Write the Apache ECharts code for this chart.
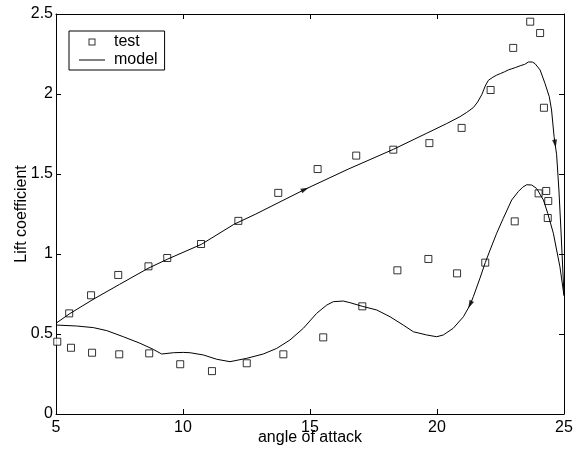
<!DOCTYPE html>
<html>
<head>
<meta charset="utf-8">
<script src="https://cdn.jsdelivr.net/npm/echarts@6/dist/echarts.min.js"></script>
<style>
    html, body { margin: 0; padding: 0; background: #fff; }
    #chart { width: 576px; height: 453px; }
</style>
</head>
<body>
<div id="chart"></div>
<script>
// measured test points
const testX = [5.05, 5.52, 5.59, 6.38, 6.42, 7.45, 7.49, 8.64, 8.67, 9.38, 9.89, 10.71, 11.14, 12.18,
    12.51, 13.75, 13.95, 15.3, 15.52, 16.82, 17.06, 18.28, 18.44, 19.7, 19.66, 20.97, 20.79,
    22.11, 21.9, 23.0, 23.06, 23.67, 24.06, 24.21, 24.0, 24.3, 24.38, 24.36]
const testY = [0.452, 0.629, 0.414, 0.742, 0.383, 0.869, 0.373, 0.923, 0.379, 0.975, 0.311, 1.0625, 0.268, 1.207,
    0.317, 1.382, 0.373, 1.531, 0.479, 1.615, 0.673, 1.652, 0.898, 1.693, 0.969, 1.788, 0.879,
    2.025, 0.946, 2.288, 1.204, 2.452, 2.381, 1.914, 1.379, 1.394, 1.331, 1.225]

// model loop: upper branch to the right, then lower branch back to the left
const modelX = [5.0, 5.52, 6.5, 7.5, 8.62, 9.38, 10.72, 12.0, 12.87, 14.8, 16.5, 18.28, 19.6, 20.38, 20.9,
    21.17, 21.43, 21.6, 21.76, 21.9, 22.02, 22.2, 22.35, 22.5, 22.65, 22.8, 22.95, 23.1, 23.3, 23.45, 23.6,
    23.75, 23.86, 24.06, 24.25, 24.42, 24.51, 24.61, 24.71, 24.8, 24.88, 25.0,
    24.84, 24.58, 24.36, 24.19, 23.92, 23.73, 23.53, 23.37, 23.2, 22.94, 22.61, 22.35, 22.09, 21.9,
    21.69, 21.43, 21.3, 21.04, 20.64, 20.25, 19.99, 19.59, 19.07, 18.67, 18.15, 17.63, 17.06, 16.57,
    16.31, 15.92, 15.66, 15.26, 14.74, 14.21, 13.69, 13.16, 12.51, 11.85, 11.33, 10.8, 10.28, 10.01,
    9.62, 9.16, 8.83, 8.31, 7.65, 7.0, 6.47, 5.81, 5.0]
const modelY = [0.567, 0.625, 0.72, 0.81, 0.91, 0.967, 1.06, 1.185, 1.25, 1.404, 1.53, 1.654, 1.755, 1.815, 1.858,
    1.885, 1.915, 1.95, 1.995, 2.05, 2.085, 2.105, 2.118, 2.128, 2.138, 2.15, 2.158, 2.166, 2.178, 2.185, 2.2,
    2.2, 2.19, 2.15, 2.067, 1.983, 1.9, 1.733, 1.62, 1.4, 1.15, 0.74,
    0.92, 1.13, 1.254, 1.3375, 1.41, 1.431, 1.433, 1.417, 1.39, 1.3375, 1.223, 1.13, 1.025, 0.946,
    0.848, 0.733, 0.681, 0.608, 0.536, 0.494, 0.483, 0.494, 0.514, 0.556, 0.608, 0.65, 0.673, 0.696,
    0.706, 0.702, 0.681, 0.629, 0.536, 0.4625, 0.41, 0.375, 0.348, 0.327, 0.342, 0.369, 0.383, 0.385,
    0.383, 0.375, 0.404, 0.442, 0.483, 0.521, 0.54, 0.55, 0.556]

// direction arrows sitting on the model curve
const arrowX = [14.8, 24.65, 21.3]
const arrowY = [1.404, 1.69, 0.684]

const xTicks = ['5', '10', '15', '20', '25']
const yTicks = ['0', '0.5', '1', '1.5', '2', '2.5']

const font = 'Liberation Sans, Arial, Helvetica, sans-serif'
const zip = (xs, ys) => xs.map((x, i) => [x, ys[i]])

const chart = echarts.init(document.getElementById('chart'))

const baseX = {
    type: 'value', min: 5, max: 25, interval: 5,
    axisLine: {show: true, onZero: false, lineStyle: {color: '#000', width: 1}},
    axisTick: {show: true, inside: true, length: 5, lineStyle: {color: '#000'}},
    splitLine: {show: false}
}
const baseY = {
    type: 'value', min: 0, max: 2.5, interval: 0.5,
    axisLine: {show: true, onZero: false, lineStyle: {color: '#000', width: 1}},
    axisTick: {show: true, inside: true, length: 5, lineStyle: {color: '#000'}},
    splitLine: {show: false}
}

const option = {
    animation: false,
    grid: {left: 56, right: 12, top: 14, bottom: 39, containLabel: false, outerBoundsMode: 'none'},
    legend: {
        data: [
            // hollow square drawn as a filled ring so the border stays 1px
            {name: 'test', icon: 'path://M0,0H7V7H0ZM1,1V6H6V1Z', itemStyle: {color: '#000', borderWidth: 0}},
            {name: 'model', icon: 'path://M0,0H26V1H0Z', itemStyle: {color: '#000', borderWidth: 0}}
        ],
        orient: 'vertical',
        left: 69, top: 31,
        itemWidth: 26, itemHeight: 7, itemGap: 2,
        symbolKeepAspect: true,
        padding: [3, 7, 2, 10],
        borderColor: '#000', borderWidth: 1,
        backgroundColor: '#fff',
        textStyle: {color: '#000', fontSize: 16, fontFamily: font, padding: [0, 0, 0, 4]}
    },
    xAxis: [
        {...baseX, position: 'bottom',
            name: 'angle of attack', nameLocation: 'middle', nameGap: 16, nameMoveOverlap: false,
            nameTextStyle: {color: '#000', fontSize: 16, fontFamily: font},
            axisLabel: {color: '#000', fontSize: 16, fontFamily: font, margin: 6,
                formatter: v => xTicks[Math.round((v - 5) / 5)]}},
        {...baseX, position: 'top', axisLabel: {show: false}}
    ],
    yAxis: [
        {...baseY, position: 'left',
            name: 'Lift coefficient', nameLocation: 'middle', nameGap: 26, nameMoveOverlap: false,
            nameTextStyle: {color: '#000', fontSize: 16, fontFamily: font},
            axisLabel: {color: '#000', fontSize: 16, fontFamily: font, margin: 3,
                formatter: v => yTicks[Math.round(v / 0.5)]}},
        {...baseY, position: 'right', axisLabel: {show: false}}
    ],
    series: [
        {
            name: 'test', type: 'scatter',
            data: zip(testX, testY),
            symbol: 'rect', symbolSize: 7,
            itemStyle: {color: '#fff', borderColor: '#000', borderWidth: 1}
        },
        {
            name: 'model', type: 'line',
            data: zip(modelX, modelY),
            symbol: 'none', showSymbol: false, smooth: false,
            lineStyle: {color: '#000', width: 1},
            itemStyle: {color: '#000'}
        },
        {
            name: 'arrows', type: 'scatter',
            data: zip(arrowX, arrowY).map((p, i) => ({value: p, symbolRotate: [-65, -172, 154][i]})),
            symbol: 'triangle', symbolSize: [5, 8],
            itemStyle: {color: '#000'},
            z: 3
        }
    ]
}

chart.setOption(option)
</script>
</body>
</html>
